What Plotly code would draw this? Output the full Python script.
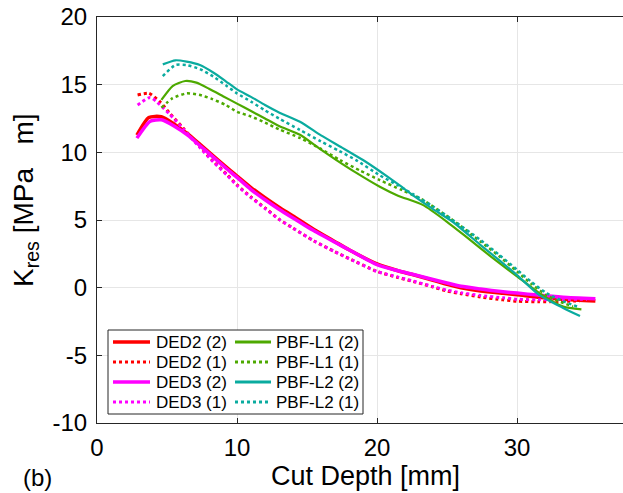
import plotly.graph_objects as go

# ---------------- data ----------------
ded2_2_x = [2.85, 3.7, 4.6, 5.5, 6.5, 7.4, 8.3, 9.3, 10, 11, 12, 13, 14, 15.5, 17, 18, 20, 21.5, 22.6, 24, 25, 26, 27.4, 29, 30, 31.5, 33.3, 35.6]
ded2_2_y = [11.28, 12.58, 12.63, 12.1, 11.35, 10.55, 9.75, 8.85, 8.25, 7.4, 6.65, 5.95, 5.3, 4.3, 3.4, 2.8, 1.75, 1.25, 0.95, 0.55, 0.25, 0.0, -0.25, -0.42, -0.52, -0.7, -0.85, -0.98]

ded2_1_x = [2.9, 3.7, 4.5, 5.2, 6.15, 7.35, 8.3, 9.3, 10, 11, 12, 13, 14, 15.5, 17, 18, 20, 21.5, 22.6, 24, 25, 26, 27.4, 29, 30, 31.5, 33, 34.5]
ded2_1_y = [14.24, 14.36, 13.74, 12.88, 11.8, 10.4, 9.35, 8.35, 7.6, 6.7, 5.9, 5.05, 4.4, 3.45, 2.65, 2.15, 1.2, 0.75, 0.45, 0.05, -0.25, -0.45, -0.69, -0.9, -1.0, -1.04, -1.02, -0.97]

ded3_2_x = [2.85, 3.8, 4.6, 5.5, 6.5, 7.4, 8.3, 9.3, 10, 11, 12, 13, 14, 15.5, 17, 18, 20, 21.5, 22.6, 24, 25, 26, 27.4, 29, 30, 31.5, 33.3, 35.6]
ded3_2_y = [11.05, 12.3, 12.4, 11.95, 11.25, 10.45, 9.65, 8.75, 8.15, 7.25, 6.5, 5.8, 5.15, 4.2, 3.35, 2.8, 1.7, 1.25, 0.97, 0.6, 0.35, 0.1, -0.1, -0.3, -0.4, -0.55, -0.7, -0.82]

ded3_1_x = [2.9, 3.8, 4.3, 5.2, 6.15, 7.35, 8.3, 9.3, 10, 11, 12, 13, 14, 15.5, 17, 18, 20, 21.5, 22.6, 24, 25, 26, 27.4, 29, 30, 31.5, 33, 35]
ded3_1_y = [13.5, 14.06, 13.7, 12.8, 11.75, 10.35, 9.3, 8.3, 7.55, 6.65, 5.85, 5.05, 4.4, 3.45, 2.65, 2.15, 1.2, 0.78, 0.48, 0.08, -0.18, -0.38, -0.58, -0.75, -0.85, -0.9, -0.88, -0.85]

pbf1_2_x = [4.6, 5.4, 6.3, 7.1, 8.0, 9.0, 10, 11, 12, 13, 14.5, 16, 17.1, 18.5, 20.2, 21.5, 23.3, 25, 26.2, 27.4, 28.7, 30, 31.6, 33.3, 34.6]
pbf1_2_y = [13.87, 14.9, 15.27, 15.15, 14.7, 14.15, 13.6, 13.05, 12.5, 11.95, 11.3, 10.2, 9.43, 8.5, 7.46, 6.8, 6.1, 4.87, 3.9, 2.9, 1.85, 0.84, -0.4, -1.4, -1.6]

pbf1_1_x = [4.6, 5.4, 6.4, 7.3, 8.2, 9.2, 10, 11, 12, 13, 14.5, 16, 17.35, 18.8, 20.2, 21.8, 23.3, 25.4, 27.4, 28.7, 30, 31, 32.1, 33, 34]
pbf1_1_y = [13.3, 14.0, 14.36, 14.25, 13.95, 13.5, 13.0, 12.65, 12.2, 11.7, 11.06, 10.25, 9.43, 8.65, 7.95, 7.2, 6.47, 5.0, 3.4, 2.35, 1.2, 0.3, -0.55, -1.0, -1.4]

pbf2_2_x = [4.7, 5.6, 6.4, 7.35, 8.3, 9.2, 10, 11, 12, 13, 14.5, 16, 17.5, 19, 20.2, 21.5, 22.6, 24, 25.4, 27.4, 28.7, 30, 31.6, 33.3, 34.5]
pbf2_2_y = [16.5, 16.8, 16.7, 16.45, 15.9, 15.25, 14.65, 14.1, 13.5, 12.95, 12.26, 11.25, 10.35, 9.43, 8.6, 7.65, 6.8, 5.8, 4.87, 3.15, 2.05, 0.93, -0.55, -1.5, -2.1]

pbf2_1_x = [4.7, 5.6, 6.4, 7.35, 8.3, 9.2, 10, 11, 12, 13, 14.5, 16, 17.3, 18.5, 20.2, 21.5, 22.6, 24, 25.4, 27.4, 28.7, 30, 31, 32.1, 33.3, 34.3]
pbf2_1_y = [15.64, 16.45, 16.45, 16.15, 15.6, 14.95, 14.36, 13.75, 13.1, 12.5, 11.65, 10.8, 10.1, 9.43, 8.3, 7.55, 6.9, 6.0, 5.0, 3.52, 2.45, 1.33, 0.45, -0.4, -1.0, -1.4]

x_ticks = [0, 10, 20, 30]
y_ticks = [-10, -5, 0, 5, 10, 15, 20]

RED = "#FF0000"
MAG = "#FF00FF"
GRN = "#4DA900"
TEAL = "#0AAB9F"
FONT = "Arial, Liberation Sans, sans-serif"

# name, x, y, color, dash, width, legend column, legend row
series = [
    ("DED2 (2)", ded2_2_x, ded2_2_y, RED, "solid", 3.5, 0, 0),
    ("DED2 (1)", ded2_1_x, ded2_1_y, RED, "dot", 3, 0, 1),
    ("DED3 (2)", ded3_2_x, ded3_2_y, MAG, "solid", 3.5, 0, 2),
    ("DED3 (1)", ded3_1_x, ded3_1_y, MAG, "dot", 3, 0, 3),
    ("PBF-L1 (2)", pbf1_2_x, pbf1_2_y, GRN, "solid", 2.2, 1, 0),
    ("PBF-L1 (1)", pbf1_1_x, pbf1_1_y, GRN, "dot", 2.5, 1, 1),
    ("PBF-L2 (2)", pbf2_2_x, pbf2_2_y, TEAL, "solid", 2.2, 1, 2),
    ("PBF-L2 (1)", pbf2_1_x, pbf2_1_y, TEAL, "dot", 2.5, 1, 3),
]

W, H = 623, 493
L, T, B, R = 97, 17, 70, 0
pw = W - L - R
ph = H - T - B


def px2paper_x(px):
    return (px - L) / pw


def px2paper_y(py):
    return (H - B - py) / ph


fig = go.Figure()
for name, xs, ys, col, dash, w, c, r in series:
    fig.add_trace(go.Scatter(
        x=xs, y=ys, mode="lines", name=name, showlegend=False,
        line=dict(color=col, dash=dash, width=w, shape="spline", smoothing=0.6),
    ))

# ---- legend box (two columns, drawn in paper coordinates) ----
shapes = [dict(
    type="rect", xref="paper", yref="paper",
    x0=px2paper_x(108), x1=px2paper_x(363),
    y0=px2paper_y(414), y1=px2paper_y(330),
    line=dict(color="#262626", width=1), fillcolor="white", layer="above",
)]
annotations = []
col_line = [(113, 150), (235, 271)]
col_text = [154, 274]
row_y = [342, 362, 382, 402]
for name, xs, ys, col, dash, w, c, r in series:
    lx0, lx1 = col_line[c]
    yy = px2paper_y(row_y[r])
    shapes.append(dict(
        type="line", xref="paper", yref="paper",
        x0=px2paper_x(lx0), x1=px2paper_x(lx1), y0=yy, y1=yy,
        line=dict(color=col, dash=dash, width=(3.5 if w >= 3 else 3) if dash == "solid" else 3),
        layer="above",
    ))
    annotations.append(dict(
        text=name, xref="paper", yref="paper",
        x=px2paper_x(col_text[c]), y=yy, xanchor="left", yanchor="middle",
        showarrow=False, font=dict(family=FONT, size=17, color="#000000"),
    ))

annotations += [
    dict(text="Cut Depth [mm]", xref="paper", yref="paper",
         x=px2paper_x(365), y=px2paper_y(476), xanchor="center", yanchor="middle",
         showarrow=False, font=dict(family=FONT, size=27, color="#000000")),
    dict(text="K<sub>res</sub> [MPa\u00a0\u00a0\u00a0m]", xref="paper", yref="paper",
         x=px2paper_x(26), y=px2paper_y(200), xanchor="center", yanchor="middle",
         textangle=-90, showarrow=False,
         font=dict(family=FONT, size=28, color="#000000")),
    dict(text="(b)", xref="paper", yref="paper",
         x=px2paper_x(37), y=px2paper_y(477), xanchor="center", yanchor="middle",
         showarrow=False, font=dict(family=FONT, size=24, color="#000000")),
]

fig.update_layout(
    width=W, height=H,
    margin=dict(l=L, r=R, t=T, b=B),
    paper_bgcolor="white", plot_bgcolor="white",
    font=dict(family=FONT, color="#000000"),
    showlegend=False,
    xaxis=dict(
        range=[0, pw / 14.0], tickvals=x_ticks, ticktext=[str(v) for v in x_ticks],
        showgrid=True, gridcolor="#e6e6e6", gridwidth=1, zeroline=False,
        showline=True, linecolor="#262626", linewidth=1, mirror="ticks",
        ticks="inside", ticklen=5, tickcolor="#262626",
        tickfont=dict(family=FONT, size=24, color="#000000"),
        ticklabelstandoff=3,
    ),
    yaxis=dict(
        range=[-10, 20], tickvals=y_ticks, ticktext=[str(v) for v in y_ticks],
        showgrid=True, gridcolor="#e6e6e6", gridwidth=1, zeroline=False,
        showline=True, linecolor="#262626", linewidth=1, mirror=False,
        ticks="inside", ticklen=5, tickcolor="#262626",
        tickfont=dict(family=FONT, size=24, color="#000000"),
        ticklabelstandoff=4,
    ),
    shapes=shapes,
    annotations=annotations,
)

fig.write_html("out.html")
